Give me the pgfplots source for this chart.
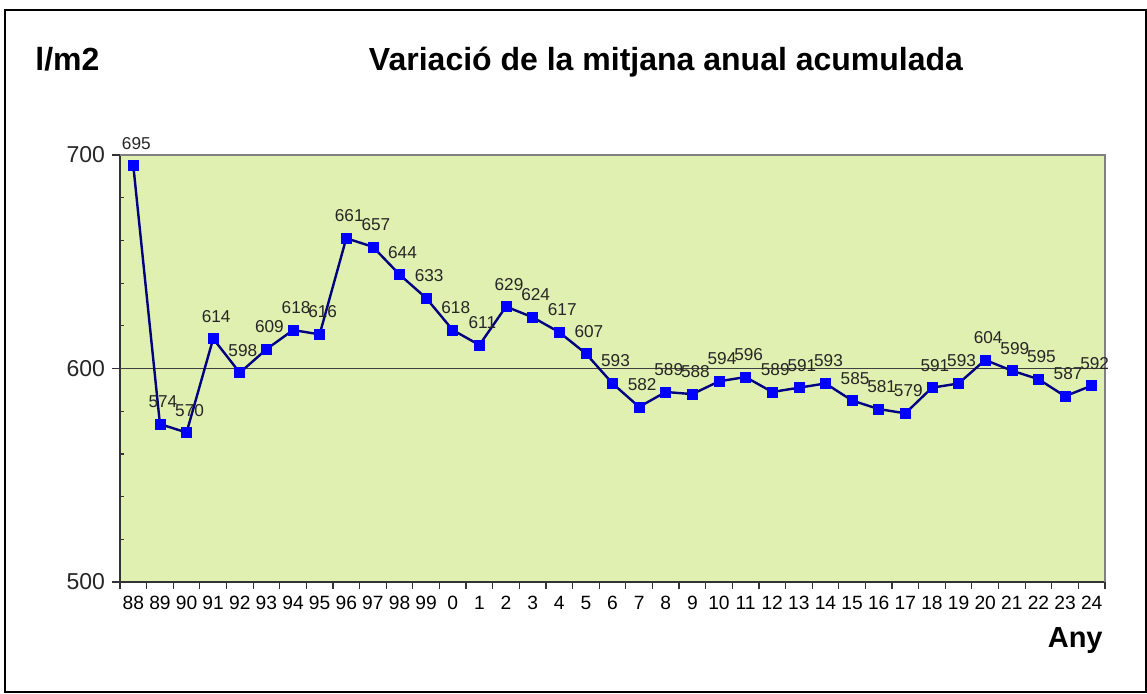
\documentclass[border=0pt]{standalone}
\usepackage{fontspec}
\setmainfont{Liberation Sans}
\usepackage{pgfplots}
\pgfplotsset{compat=1.18}
\definecolor{bgc}{HTML}{E0F0B0}
\definecolor{linec}{HTML}{000080}
\definecolor{markc}{HTML}{0000FF}
\begin{document}
\begin{tikzpicture}
\useasboundingbox (0,0) rectangle (573.5pt,346.5pt);
\draw[line width=0.8pt] (2.5pt,0.5pt) rectangle (573pt,341.5pt);
\node[font=\bfseries\fontsize{16}{18}\selectfont, anchor=base, inner sep=0pt] at (333pt,311.5pt) {Variació de la mitjana anual acumulada};
\node[font=\bfseries\fontsize{16}{18}\selectfont, anchor=base west, inner sep=0pt] at (17.5pt,311.5pt) {l/m2};
\node[font=\bfseries\fontsize{14.5}{16}\selectfont, anchor=base east, inner sep=0pt] at (551.5pt,23pt) {Any};
\begin{axis}[at={(60pt,55.5pt)}, anchor=south west, width=492.5pt, height=213.5pt, scale only axis,
  xmin=-0.5, xmax=36.5, ymin=500, ymax=700,
  axis x line*=bottom, axis y line*=left,
  axis line style={line width=1pt, black!80, -},
  axis background/.style={fill=bgc},
  /pgf/number format/assume math mode=true,
  tick align=outside,
  xtick={0,...,36},
  xticklabels={88,89,90,91,92,93,94,95,96,97,98,99,0,1,2,3,4,5,6,7,8,9,10,11,12,13,14,15,16,17,18,19,20,21,22,23,24},
  major x tick style={draw=none},
  minor xtick={-0.5,0.5,...,36.5},
  minor tick length=3.5pt,
  minor x tick style={black!80, line width=0.6pt},
  ytick={500,600,700},
  major tick length=4pt,
  major y tick style={black!80, line width=0.6pt},
  extra y ticks={520,540,560,580,620,640,660,680},
  extra y tick labels={},
  extra y tick style={tick align=inside, major tick length=2pt},
  xticklabel style={font=\fontsize{9.6}{11}\selectfont, inner sep=1pt, yshift=-2pt},
  yticklabel style={font=\fontsize{11.5}{13}\selectfont, text=black!85},
  clip=false,
  nodes near coords={\pgfmathprintnumber[fixed,precision=0]{\pgfplotspointmeta}},
  point meta=y,
  nodes near coords style={font=\fontsize{8.6}{10}\selectfont, anchor=south, inner sep=0pt, yshift=8pt, xshift=1.5pt, text=black!85},
]
\draw[black!75, line width=0.6pt] (axis cs:-0.5,600) -- (axis cs:36.5,600);
\addplot[color=linec, line width=1.2pt, mark=square*, mark size=2.5pt, mark options={fill=markc, draw=markc, line width=0.3pt}] coordinates {
(0,695)(1,574)(2,570)(3,614)(4,598)(5,609)(6,618)(7,616)(8,661)(9,657)(10,644)(11,633)
(12,618)(13,611)(14,629)(15,624)(16,617)(17,607)(18,593)(19,582)(20,589)(21,588)(22,594)(23,596)
(24,589)(25,591)(26,593)(27,585)(28,581)(29,579)(30,591)(31,593)(32,604)(33,599)(34,595)(35,587)(36,592)
};
\draw[gray, line width=1pt] (rel axis cs:0,1) -- (rel axis cs:1,1) -- (rel axis cs:1,0);
\end{axis}
\end{tikzpicture}
\end{document}
